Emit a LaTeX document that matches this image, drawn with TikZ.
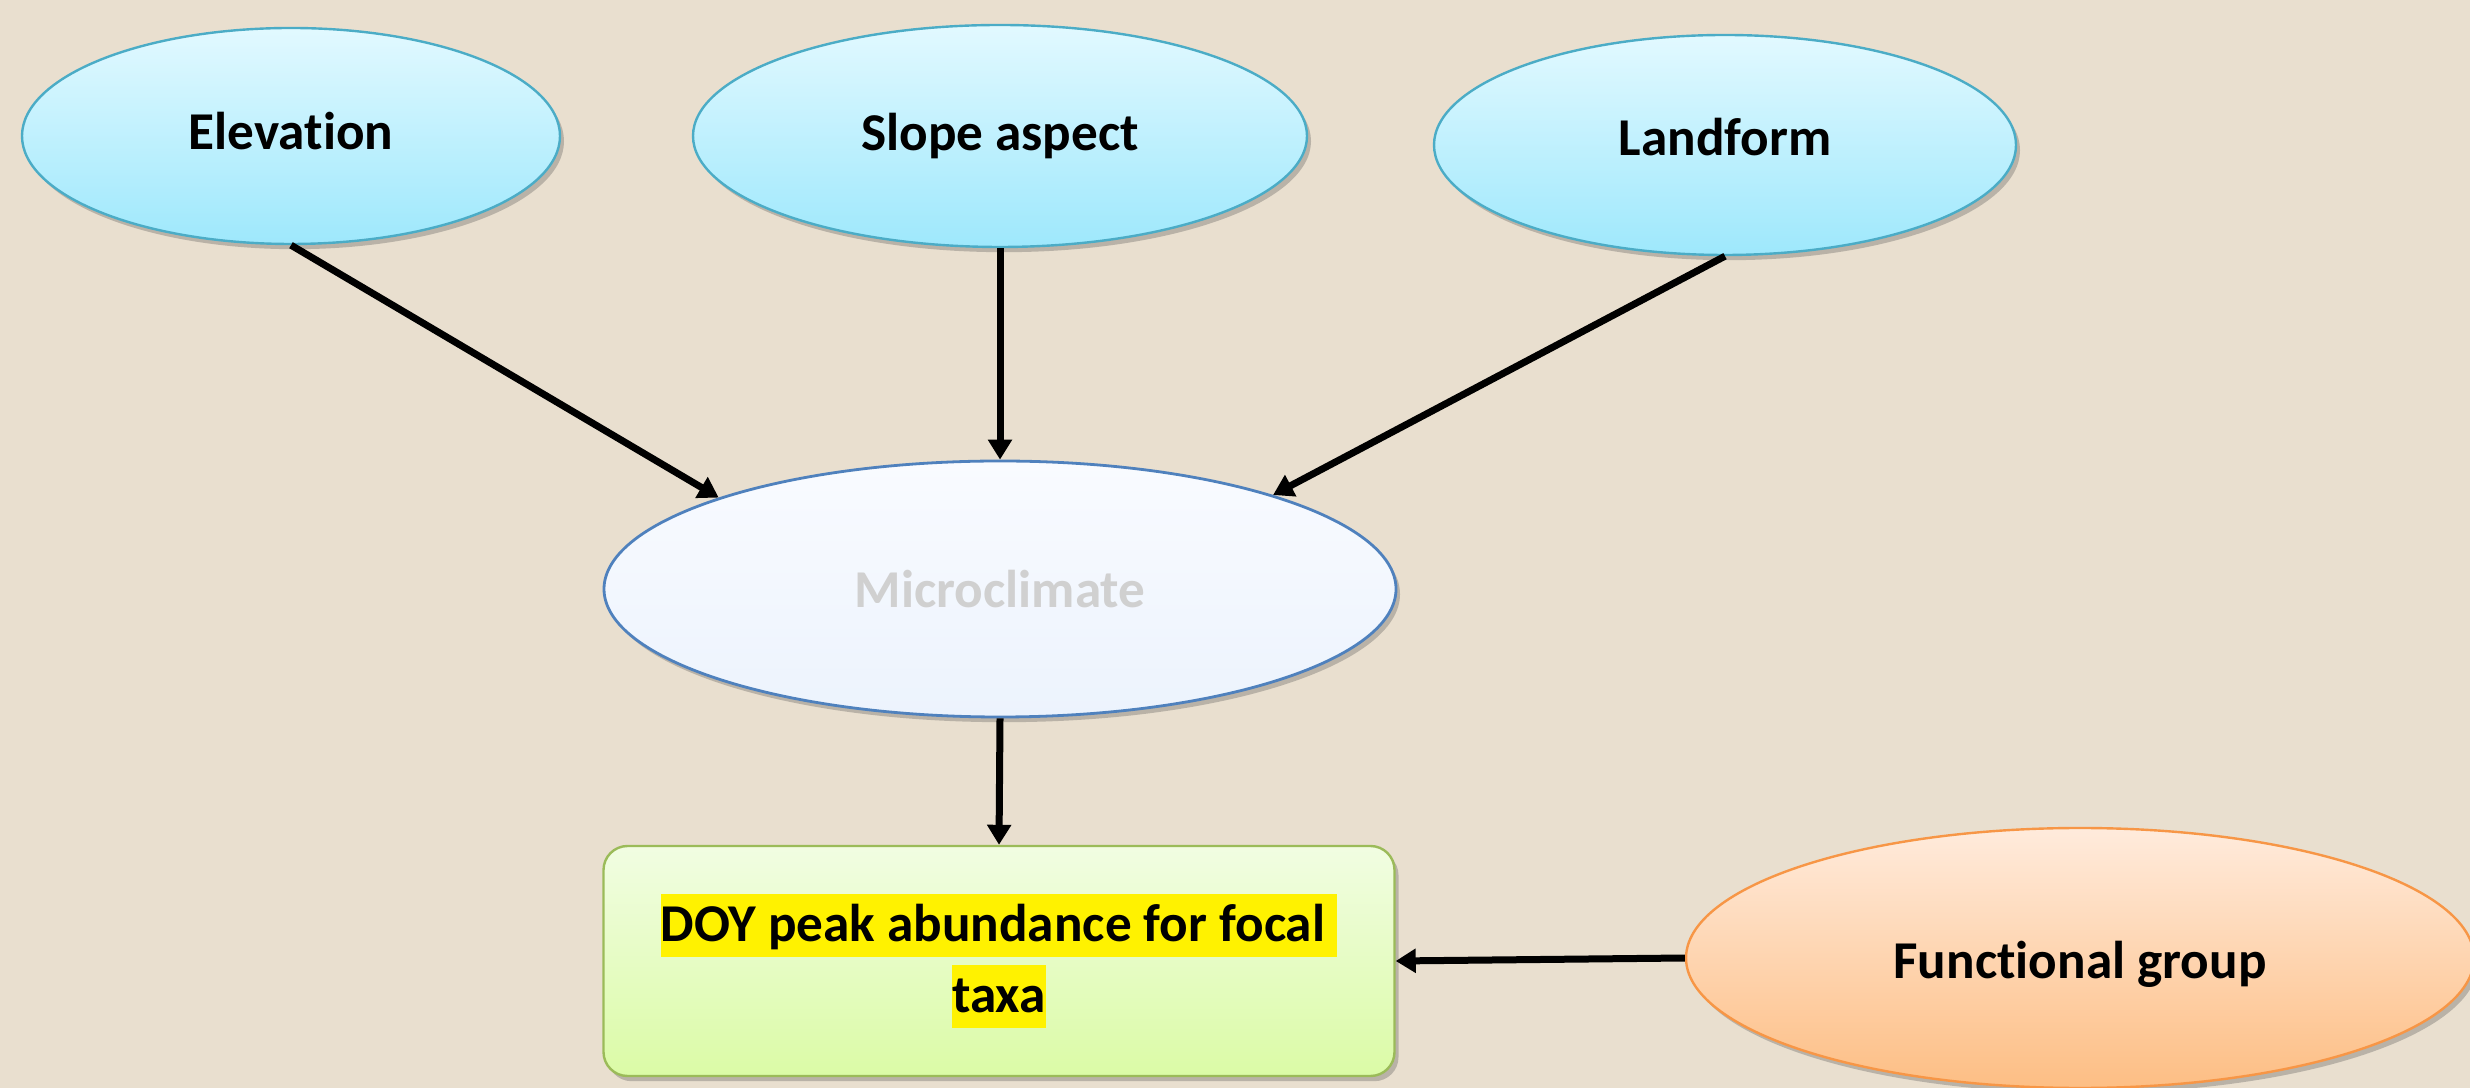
\documentclass[tikz,border=0pt]{standalone}
\usepackage{fontspec}
\setmainfont[Ligatures=NoCommon]{Carlito}
\usetikzlibrary{shapes.geometric,arrows.meta,shadows}
\definecolor{bgbeige}{RGB}{233,223,207}
\definecolor{factortop}{RGB}{226,249,255}
\definecolor{factorbot}{RGB}{158,232,252}
\definecolor{factorrim}{RGB}{75,172,198}
\definecolor{microtop}{RGB}{249,251,255}
\definecolor{microbot}{RGB}{236,243,253}
\definecolor{microrim}{RGB}{79,129,189}
\definecolor{microtext}{RGB}{208,208,208}
\definecolor{grouptop}{RGB}{255,235,220}
\definecolor{groupbot}{RGB}{253,190,132}
\definecolor{grouprim}{RGB}{247,150,70}
\definecolor{outtop}{RGB}{241,253,226}
\definecolor{outbot}{RGB}{219,251,166}
\definecolor{outrim}{RGB}{155,187,89}
\newcommand{\hilite}[1]{{\setlength{\fboxsep}{0pt}\colorbox{yellow}{\rule[-4pt]{0pt}{15.8pt}#1}}}
\begin{document}
\begin{tikzpicture}[x=0.25pt,y=-0.25pt,
  label font/.style={font=\fontsize{13.3}{17.75}\selectfont\bfseries},
  soft shadow/.style={drop shadow={shadow xshift=1pt,shadow yshift=-1.3pt,opacity=0.3,fill=black!70}},
  factor/.style={ellipse,draw=factorrim,line width=0.6pt,top color=factortop,bottom color=factorbot,
    inner sep=0pt,label font,soft shadow},
  micro/.style={ellipse,draw=microrim,line width=0.7pt,top color=microtop,bottom color=microbot,
    inner sep=0pt,label font,text=microtext,soft shadow},
  group/.style={ellipse,draw=grouprim,line width=0.6pt,top color=grouptop,bottom color=groupbot,
    inner sep=0pt,label font,soft shadow},
  outcome/.style={rectangle,rounded corners=6pt,draw=outrim,line width=0.6pt,top color=outtop,bottom color=outbot,
    inner sep=0pt,label font,align=center,soft shadow},
  causal/.style={-{Triangle[length=5pt,width=5.8pt]},line width=1.75pt,black}
]
% Background
\fill[bgbeige] (0,0) rectangle (2470,1088);
\useasboundingbox (0,0) rectangle (2470,1088);

% Landscape factors
\node[factor,minimum width=134.5pt,minimum height=54pt,text depth=2.4pt] (elev) at (291,136) {Elevation};
\node[factor,minimum width=153.5pt,minimum height=55.5pt] (slope) at (1000,136) {Slope aspect};
\node[factor,minimum width=145.5pt,minimum height=55pt,text depth=4pt] (land) at (1725,145) {Landform};

% Microclimate
\node[micro,minimum width=198pt,minimum height=64pt] (micro) at (1000,589) {Microclimate};

% Outcome and functional group
\node[outcome,minimum width=197.75pt,minimum height=57.5pt] (doy) at (999,961)
  {\hilite{DOY peak abundance for focal\ }\\\hilite{taxa}};
\node[group,minimum width=197pt,minimum height=65pt,text height=12.5pt] (func) at (2080,958) {Functional group};

% Arrows
\draw[causal] (elev.south) -- (micro.162);
\draw[causal] (slope.south) -- (micro.north);
\draw[causal] (land.south) -- (micro.19);
\draw[causal] (micro.south) -- (doy.north);
\draw[causal] (func.west) -- (doy.east);
\end{tikzpicture}
\end{document}
